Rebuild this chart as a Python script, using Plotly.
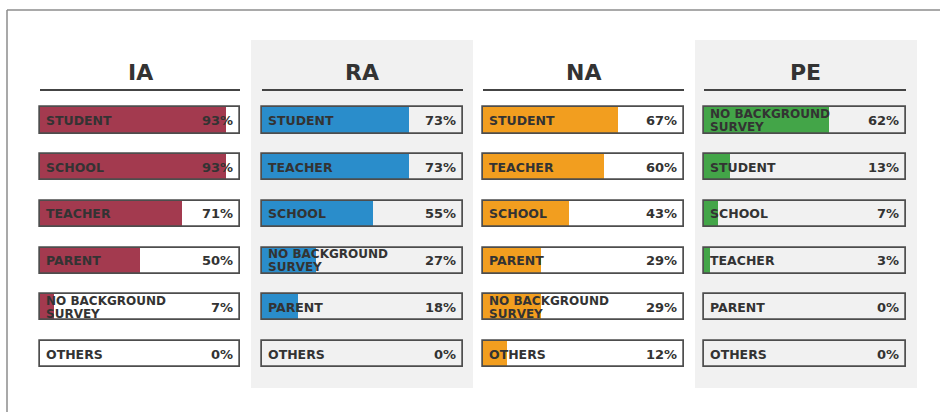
import plotly.graph_objects as go

panels = ["IA", "RA", "NA", "PE"]
colors = ["#a33a4f", "#2a8dcb", "#f29e1f", "#43a548"]

ia_cats = ["STUDENT", "SCHOOL", "TEACHER", "PARENT", "NO BACKGROUND SURVEY", "OTHERS"]
ia_vals = [93, 93, 71, 50, 7, 0]
ra_cats = ["STUDENT", "TEACHER", "SCHOOL", "NO BACKGROUND SURVEY", "PARENT", "OTHERS"]
ra_vals = [73, 73, 55, 27, 18, 0]
na_cats = ["STUDENT", "TEACHER", "SCHOOL", "PARENT", "NO BACKGROUND SURVEY", "OTHERS"]
na_vals = [67, 60, 43, 29, 29, 12]
pe_cats = ["NO BACKGROUND SURVEY", "STUDENT", "SCHOOL", "TEACHER", "PARENT", "OTHERS"]
pe_vals = [62, 13, 7, 3, 0, 0]

cats_all = [ia_cats, ra_cats, na_cats, pe_cats]
vals_all = [ia_vals, ra_vals, na_vals, pe_vals]

W, H = 940, 412
box_px = [(40, 240), (262, 463), (483, 684), (704, 906)]
gray_bg = [None, (251, 473), None, (695, 917)]
FONT = "DejaVu Sans"
TXT = "#333333"
PAD = 1.5  # data units of padding so outlines are not clipped

row0 = 120.5
step = 46.7
ylo = -row0 / step
yhi = (H - row0) / step

fig = go.Figure()
shapes = []
annotations = []

# outer frame
shapes.append(dict(type="line", xref="paper", yref="paper", x0=7 / W, x1=1.0, y0=1 - 10 / H, y1=1 - 10 / H,
                   line=dict(color="#8c8c8c", width=1.5)))
shapes.append(dict(type="line", xref="paper", yref="paper", x0=7 / W, x1=7 / W, y0=0, y1=1 - 10 / H,
                   line=dict(color="#8c8c8c", width=1.5)))

for i, (name, col, cats, vals) in enumerate(zip(panels, colors, cats_all, vals_all)):
    ax = "" if i == 0 else str(i + 1)
    xa, ya = "x" + ax, "y" + ax
    if gray_bg[i]:
        g0, g1 = gray_bg[i]
        shapes.append(dict(type="rect", xref="paper", yref="paper", x0=g0 / W, x1=g1 / W,
                           y0=1 - 388 / H, y1=1 - 40 / H, fillcolor="#f1f1f1", line=dict(width=0), layer="below"))
    fig.add_trace(go.Bar(x=vals, y=cats, orientation="h", marker=dict(color=col, line=dict(width=0)),
                         width=0.56, xaxis=xa, yaxis=ya, hoverinfo="skip", showlegend=False))
    fig.add_trace(go.Bar(x=[100] * len(cats), y=cats, orientation="h",
                         marker=dict(color="rgba(0,0,0,0)", line=dict(color="#4d4d4d", width=1.7)),
                         width=0.56, xaxis=xa, yaxis=ya, hoverinfo="skip", showlegend=False))
    p0, p1 = box_px[i]
    ppu = (p1 - p0) / 100.0
    layout_x = dict(domain=[(p0 - PAD * ppu) / W, (p1 + PAD * ppu) / W], range=[-PAD, 100 + PAD],
                    visible=False, fixedrange=True)
    layout_y = dict(domain=[0, 1], range=[yhi, ylo], visible=False, type="category",
                    categoryorder="array", categoryarray=cats, fixedrange=True)
    if i > 0:
        layout_x["anchor"] = ya
        layout_y["anchor"] = xa
    fig.update_layout(**{"xaxis" + ax: layout_x, "yaxis" + ax: layout_y})
    # title + underline
    annotations.append(dict(text="<b>%s</b>" % name, xref=xa, yref="paper", x=50, y=1 - 72 / H,
                            yanchor="middle", showarrow=False, font=dict(family=FONT, size=22, color=TXT)))
    shapes.append(dict(type="line", xref=xa, yref="paper", x0=0, x1=100, y0=1 - 90 / H, y1=1 - 90 / H,
                       line=dict(color="#444444", width=1.8)))
    for c, v in zip(cats, vals):
        if c == "NO BACKGROUND SURVEY":
            for line_txt, ys in (("NO BACKGROUND", 6.5), ("SURVEY", -6.5)):
                annotations.append(dict(text="<b>%s</b>" % line_txt, xref=xa, yref=ya, x=0, y=c,
                                        xanchor="left", yanchor="middle", xshift=4, yshift=ys,
                                        showarrow=False, font=dict(family=FONT, size=12, color=TXT)))
        else:
            annotations.append(dict(text="<b>%s</b>" % c, xref=xa, yref=ya, x=0, y=c, xanchor="left",
                                    yanchor="middle", xshift=4, showarrow=False,
                                    font=dict(family=FONT, size=12.5, color=TXT)))
        annotations.append(dict(text="<b>%d%%</b>" % v, xref=xa, yref=ya, x=100, y=c, xanchor="right",
                                yanchor="middle", xshift=-5, showarrow=False,
                                font=dict(family=FONT, size=13, color=TXT)))

fig.update_layout(width=W, height=H, margin=dict(l=0, r=0, t=0, b=0), paper_bgcolor="white",
                  plot_bgcolor="rgba(0,0,0,0)", shapes=shapes, annotations=annotations,
                  bargap=0, barmode="overlay")
fig.write_html("out.html", config={"displayModeBar": False},
               post_script="document.body.style.margin='0';document.body.style.overflow='hidden';")
